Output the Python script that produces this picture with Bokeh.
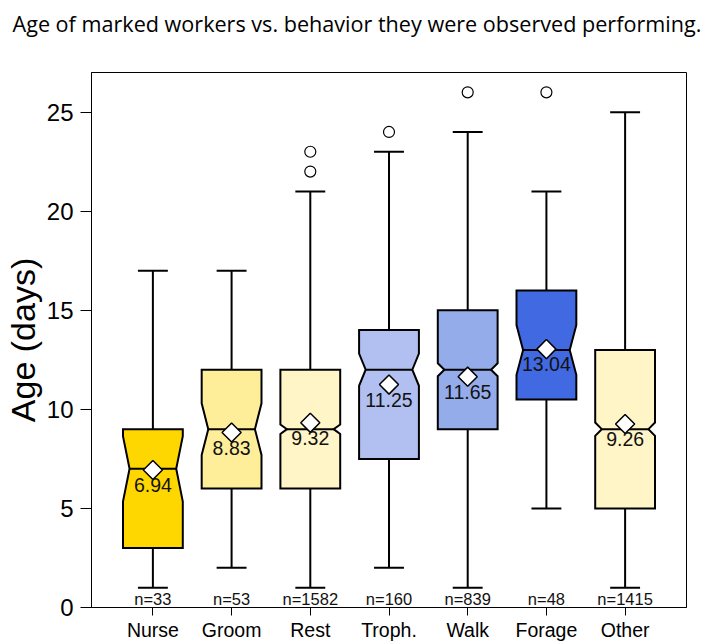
import math
from bokeh.plotting import figure
from bokeh.models import FixedTicker
from bokeh.core.properties import value
from bokeh.embed import file_html
from bokeh.resources import INLINE

# ---- data ----
categories = ["Nurse", "Groom", "Rest", "Troph.", "Walk", "Forage", "Other"]
whisker_low = [1, 2, 1, 2, 1, 5, 1]
q1 = [3, 6, 6, 7.5, 9, 10.5, 5]
median = [7, 9, 9, 12, 12, 13, 9]
q3 = [9, 12, 12, 14, 15, 16, 13]
whisker_high = [17, 17, 21, 23, 24, 21, 25]
means = [6.94, 8.83, 9.32, 11.25, 11.65, 13.04, 9.26]
counts = [33, 53, 1582, 160, 839, 48, 1415]
outlier_cat = ["Rest", "Rest", "Troph.", "Walk", "Forage"]
outlier_val = [22, 23, 24, 26, 26]
colors = ["#FFD700", "#FFEE99", "#FFF5C6", "#B1C0F1", "#95ACEB", "#4169E1", "#FFF5C6"]
y_ticks = [0, 5, 10, 15, 20, 25]
title_text = "Age of marked workers vs. behavior they were observed performing."
y_label = "Age (days)"

FONT = "Liberation Sans"
pos = list(range(1, len(categories) + 1))
hw = 0.38          # box half width
nw = 0.78 * hw     # notch waist half width
cw = 0.19          # whisker cap half width

p = figure(width=707, height=643, x_range=(0.22, 7.78), y_range=(0, 27),
           output_backend="svg", toolbar_location=None,
           min_border_left=88, min_border_right=21, min_border_top=72, min_border_bottom=36)
p.grid.visible = False
p.outline_line_color = "black"
p.outline_line_width = 1
p.background_fill_color = "white"
p.border_fill_color = "white"

# title (trailing newline reserves a blank line below so the title sits near the top)
p.title.text = title_text + "\n"
p.title.align = "left"
p.title.vertical_align = "top"
p.title.offset = -79
p.title.standoff = 8
p.title.text_font = "Open Sans"
p.title.text_font_style = "normal"
p.title.text_font_size = "21.6px"
p.title.text_color = "black"

# whiskers
p.segment(x0=pos, x1=pos, y0=q3, y1=whisker_high, line_color="black", line_width=2)
p.segment(x0=pos, x1=pos, y0=whisker_low, y1=q1, line_color="black", line_width=2)
p.segment(x0=[x - cw for x in pos], x1=[x + cw for x in pos], y0=whisker_high, y1=whisker_high,
          line_color="black", line_width=2)
p.segment(x0=[x - cw for x in pos], x1=[x + cw for x in pos], y0=whisker_low, y1=whisker_low,
          line_color="black", line_width=2)

# notched boxes
pxs, pys = [], []
for x, a, m, b, n in zip(pos, q1, median, q3, counts):
    nh = 1.58 * (b - a) / math.sqrt(n)
    lo, hi = m - nh, m + nh
    pxs.append([x - hw, x + hw, x + hw, x + nw, x + hw, x + hw, x - hw, x - hw, x - nw, x - hw])
    pys.append([a, a, lo, m, hi, b, b, hi, m, lo])
p.patches(pxs, pys, fill_color=colors, line_color="black", line_width=2, line_join="miter")
p.segment(x0=[x - nw for x in pos], x1=[x + nw for x in pos], y0=median, y1=median,
          line_color="black", line_width=2)

# outliers
ox = [pos[categories.index(c)] for c in outlier_cat]
p.scatter(ox, outlier_val, marker="circle", size=11, fill_color="white",
          line_color="black", line_width=1.2)

# means
p.scatter(pos, means, marker="square", angle=math.pi / 4, size=13.5, fill_color="white",
          line_color="black", line_width=1.5)
p.text(pos, means, text=[f"{m:.2f}" for m in means], text_align="center", text_baseline="top",
       y_offset=8, text_font=value(FONT), text_font_size="19.5px", text_color="#111111")

# counts
p.text(pos, [0] * len(pos), text=[f"n={n}" for n in counts], text_align="center",
       text_baseline="bottom", y_offset=0, text_font=value(FONT),
       text_font_size="16.5px", text_color="#111111")

# axes
p.xaxis.ticker = FixedTicker(ticks=pos)
p.xaxis.major_label_overrides = {x: c for x, c in zip(pos, categories)}
p.xaxis.major_tick_out = 8
p.xaxis.major_tick_in = 0
p.xaxis.minor_tick_line_color = None
p.xaxis.major_label_standoff = 3
p.xaxis.major_label_text_font = FONT
p.xaxis.major_label_text_font_size = "19.5px"
p.xaxis.major_label_text_color = "black"
p.xaxis.axis_line_color = "black"
p.xaxis.major_tick_line_color = "black"

p.yaxis.ticker = FixedTicker(ticks=y_ticks)
p.yaxis.major_tick_out = 11
p.yaxis.major_tick_in = 0
p.yaxis.minor_tick_line_color = None
p.yaxis.major_label_standoff = 7
p.yaxis.major_label_text_font = FONT
p.yaxis.major_label_text_font_size = "24px"
p.yaxis.major_label_text_color = "black"
p.yaxis.axis_line_color = "black"
p.yaxis.major_tick_line_color = "black"
p.yaxis.axis_label = y_label
p.yaxis.axis_label_text_font = FONT
p.yaxis.axis_label_text_font_style = "normal"
p.yaxis.axis_label_text_font_size = "34px"
p.yaxis.axis_label_text_color = "black"
p.yaxis.axis_label_standoff = 2

open("out.html", "w").write(file_html(p, INLINE))
